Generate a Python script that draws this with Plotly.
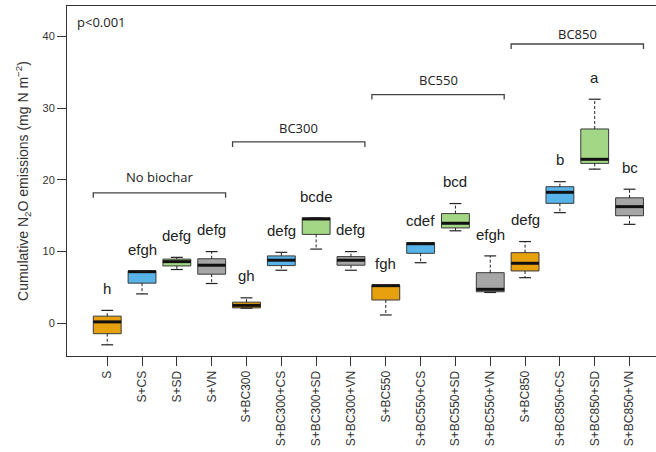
import plotly.graph_objects as go

# Treatments, in plotting order
groups = ["S", "S+CS", "S+SD", "S+VN",
          "S+BC300", "S+BC300+CS", "S+BC300+SD", "S+BC300+VN",
          "S+BC550", "S+BC550+CS", "S+BC550+SD", "S+BC550+VN",
          "S+BC850", "S+BC850+CS", "S+BC850+SD", "S+BC850+VN"]

# Box statistics (mg N m-2)
lower = [-3.0, 4.1, 7.5, 5.55, 2.1, 7.4, 10.35, 7.4, 1.16, 8.45, 12.9, 4.3, 6.36, 15.43, 21.5, 13.8]
q1 = [-1.45, 5.6, 8.0, 6.85, 2.15, 8.05, 12.4, 8.1, 3.25, 9.76, 13.3, 4.4, 7.3, 16.73, 22.3, 15.0]
median = [0.2, 7.2, 8.6, 8.1, 2.5, 8.8, 14.55, 8.8, 5.25, 11.1, 13.95, 4.74, 8.37, 18.27, 22.87, 16.27]
q3 = [1.0, 7.3, 8.95, 9.0, 2.95, 9.4, 14.7, 9.3, 5.34, 11.25, 15.3, 7.06, 9.85, 19.05, 27.1, 17.5]
upper = [1.8, 7.3, 9.2, 10.0, 3.55, 9.9, 14.7, 10.0, 5.34, 11.25, 16.7, 9.4, 11.4, 19.75, 31.25, 18.7]

# Significance letters
letters = ["h", "efgh", "defg", "defg", "gh", "defg", "bcde", "defg",
           "fgh", "cdef", "bcd", "efgh", "defg", "b", "a", "bc"]

# Biochar groupings (first and last treatment index, 1-based)
bracket_names = ["No biochar", "BC300", "BC550", "BC850"]
bracket_start = [1, 5, 9, 13]
bracket_end = [4, 8, 12, 16]
bracket_y = [18.2, 25.3, 31.9, 38.95]
bracket_label_y = [20.45, 27.3, 33.9, 40.4]

y_ticks = [0, 10, 20, 30, 40]

# Styling
palette = ["#E8A10E", "#58B3E8", "#A3D685", "#A6A6A6"]
box_w = 0.8
cap_w = 0.34
letter_gap = 3.05
ink = "#333333"

positions = list(range(1, len(groups) + 1))

fig = go.Figure()

# Dashed whiskers
wx, wy = [], []
for p, lo, a, b, hi in zip(positions, lower, q1, q3, upper):
    wx += [p, p, None, p, p, None]
    wy += [b, hi, None, a, lo, None]
fig.add_trace(go.Scatter(x=wx, y=wy, mode="lines", hoverinfo="skip",
                         line=dict(color="#222222", width=1, dash="3px,2px"),
                         showlegend=False))

# Boxes, one trace per colour
for k, col in enumerate(palette):
    idx = [i for i in range(len(groups)) if i % 4 == k]
    fig.add_trace(go.Box(
        x=[positions[i] for i in idx],
        q1=[q1[i] for i in idx],
        median=[median[i] for i in idx],
        q3=[q3[i] for i in idx],
        lowerfence=[q1[i] for i in idx],
        upperfence=[q3[i] for i in idx],
        width=box_w, whiskerwidth=0,
        fillcolor=col, line=dict(color="#3a3a3a", width=1),
        showlegend=False, hoverinfo="skip"))

# Thick medians
mx, my = [], []
for p, m in zip(positions, median):
    mx += [p - box_w / 2, p + box_w / 2, None]
    my += [m, m, None]
fig.add_trace(go.Scatter(x=mx, y=my, mode="lines", hoverinfo="skip",
                         line=dict(color="#111111", width=3), showlegend=False))

# Whisker caps
cx, cy = [], []
for p, lo, hi in zip(positions, lower, upper):
    cx += [p - cap_w / 2, p + cap_w / 2, None, p - cap_w / 2, p + cap_w / 2, None]
    cy += [hi, hi, None, lo, lo, None]
fig.add_trace(go.Scatter(x=cx, y=cy, mode="lines", hoverinfo="skip",
                         line=dict(color="#222222", width=1.2), showlegend=False))

# Letters above each box
for p, hi, t in zip(positions, upper, letters):
    fig.add_annotation(x=p, y=hi + letter_gap, text=t, showarrow=False,
                       font=dict(family="Liberation Sans, Arial", size=15, color="#222222"),
                       xanchor="center", yanchor="middle")

# Group brackets
for name, s, e, by, ly in zip(bracket_names, bracket_start, bracket_end,
                              bracket_y, bracket_label_y):
    x0, x1 = s - 0.4, e + 0.4
    fig.add_trace(go.Scatter(x=[x0, x0, x1, x1], y=[by - 0.7, by, by, by - 0.7],
                             mode="lines", hoverinfo="skip",
                             line=dict(color="#444444", width=1.3), showlegend=False))
    fig.add_annotation(x=(s + e) / 2, y=ly, text=name, showarrow=False,
                       font=dict(family="Open Sans", size=13, color="#222222"),
                       xanchor="center", yanchor="middle")

fig.add_annotation(xref="x domain", yref="y domain", x=0.014, y=0.954,
                   text="p<0.001", showarrow=False, xanchor="left", yanchor="middle",
                   font=dict(family="Open Sans", size=13, color="#222222"))

fig.update_layout(
    width=656, height=452,
    margin=dict(l=67, r=0, t=6, b=96),
    paper_bgcolor="white", plot_bgcolor="white",
    font=dict(family="Liberation Sans, Arial", color=ink),
    xaxis=dict(range=[-0.155, 16.76], tickmode="array", tickvals=positions,
               ticktext=groups, tickangle=-90, ticks="outside", ticklen=9,
               tickcolor=ink, showline=True, mirror=True, linecolor=ink,
               linewidth=1, showgrid=False, zeroline=False,
               tickfont=dict(size=12, color=ink)),
    yaxis=dict(range=[-4.56, 44.25], tickmode="array", tickvals=y_ticks,
               ticks="outside", ticklen=9, tickcolor=ink, showline=True,
               linecolor=ink, linewidth=1, showgrid=False, zeroline=False,
               tickfont=dict(size=11, color=ink),
               title=dict(text="Cumulative N<sub>2</sub>O emissions (mg N m<sup>−2</sup>)",
                          font=dict(size=14, color=ink), standoff=10)),
)

fig.write_html("out.html")
